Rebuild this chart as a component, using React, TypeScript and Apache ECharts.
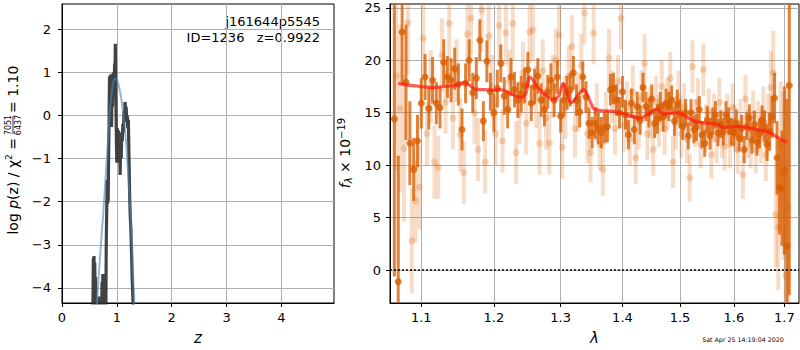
import { useEffect, useRef } from 'react';
import * as echarts from 'echarts';

// ---------- tick values ----------
const zTicks = [0, 1, 2, 3, 4];
const logPTicks = [-4, -3, -2, -1, 0, 1, 2];
const lamTicks = [1.1, 1.2, 1.3, 1.4, 1.5, 1.6, 1.7];
const fluxTicks = [0, 5, 10, 15, 20, 25];

// ---------- left panel: log p(z) ----------
const zPz = [0.560, 0.572, 0.578, 0.584, 0.590, 0.597, 0.604, 0.612, 0.622, 0.668, 0.680, 0.692, 0.722, 0.730, 0.738, 0.746, 0.754, 0.764, 0.776, 0.798, 0.806, 0.812, 0.818, 0.824, 0.830, 0.836, 0.842, 0.850, 0.858, 0.866, 0.872, 0.880, 0.888, 0.896, 0.904, 0.912, 0.920, 0.928, 0.936, 0.944, 0.952, 0.960, 0.966, 0.972, 0.978, 0.985, 0.992, 1.000, 1.010, 1.020, 1.030, 1.040, 1.050, 1.060, 1.070, 1.080, 1.090, 1.100, 1.110, 1.120, 1.130, 1.140, 1.150, 1.160, 1.170, 1.180, 1.190, 1.200, 1.210, 1.222, 1.234, 1.246, 1.254, 1.266, 1.280, 1.295, 1.310];
const logPz = [-5.0, -3.3, -3.9, -3.26, -4.05, -3.42, -4.2, -3.75, -5.0, -5.0, -4.2, -5.0, -5.0, -3.87, -4.1, -3.68, -4.1, -3.72, -5.0, -5.0, -3.1, -2.5, -2.0, -1.5, -2.05, -1.48, -2.0, -0.9, -0.2, 0.9, -0.1, 0.93, 0.0, 0.95, -0.27, 0.6, 0.2, 0.97, 0.4, 1.0, 0.7, 1.2, 0.6, 1.66, 0.9, 0.1, -0.6, -1.1, -0.3, -0.9, -0.35, -1.0, -0.5, -1.38, -0.6, -1.0, -0.4, -0.6, -0.2, -0.4, 0.1, -0.1, 0.31, 0.05, 0.2, -0.15, 0.0, -0.3, -0.1, -1.0, -1.9, -2.4, -2.56, -3.1, -3.8, -4.3, -5.0];
const zFit = [0.63, 0.66, 0.69, 0.72, 0.75, 0.78, 0.81, 0.84, 0.87, 0.90, 0.93, 0.96, 0.99, 1.02, 1.05, 1.08, 1.11, 1.14, 1.17, 1.20, 1.23, 1.26, 1.29, 1.32];
const logPzFit = [-4.5, -3.9, -3.35, -2.8, -2.3, -1.75, -1.15, -0.55, 0.05, 0.45, 0.73, 0.85, 0.84, 0.76, 0.6, 0.4, 0.12, -0.22, -0.65, -1.2, -1.85, -2.6, -3.5, -4.5];

// ---------- right panel: spectrum [lambda, flux, error] ----------
const specLight: number[][] = [
  [1.0675, 18.5, 9], [1.0725, 15.4, 8], [1.0775, 11.6, 7], [1.0825, 23.6, 5], [1.0875, 2.8, 5], [1.0925, 6.6, 4], [1.0975, 7.9, 4],
  [1.1025, 22.1, 3.5], [1.1075, 13.0, 3], [1.1125, 17.5, 3.5], [1.1175, 10.3, 3.5], [1.1225, 9.8, 3], [1.1275, 20.5, 3.5], [1.1325, 16.0, 3],
  [1.1375, 23.5, 3.5], [1.1425, 14.5, 3], [1.1475, 19.0, 3], [1.1525, 12.9, 3.5], [1.1575, 9.3, 3], [1.1625, 22.5, 3.5], [1.1675, 24.0, 3.5],
  [1.1725, 15.0, 3], [1.1775, 11.5, 3], [1.1825, 24.8, 4], [1.1875, 10.3, 3], [1.1925, 22.3, 3], [1.1975, 17.5, 3], [1.2025, 13.0, 3],
  [1.2075, 23.3, 3.5], [1.2125, 12.3, 3], [1.2175, 22.6, 3], [1.2225, 18.0, 3], [1.2275, 23.5, 3.5], [1.2325, 11.2, 3], [1.2375, 15.0, 3],
  [1.2425, 18.8, 3], [1.2475, 14.0, 3], [1.2525, 22.7, 3], [1.2575, 22.9, 3], [1.2625, 16.5, 3], [1.2675, 12.1, 3], [1.2725, 19.0, 3],
  [1.2775, 14.5, 3], [1.2825, 12.1, 3], [1.2875, 17.5, 3], [1.2925, 20.0, 3], [1.2975, 22.4, 3], [1.3025, 11.7, 3], [1.3075, 15.5, 3],
  [1.3125, 18.5, 2.8], [1.3175, 21.3, 3], [1.3225, 13.5, 2.8], [1.3275, 16.0, 2.8], [1.3325, 19.5, 3], [1.3375, 24.5, 3], [1.3425, 13.0, 2.8],
  [1.3475, 11.2, 2.8], [1.3525, 22.6, 3], [1.3575, 15.0, 2.8], [1.3625, 12.0, 2.5], [1.3675, 9.6, 2.5], [1.3725, 14.5, 2.5], [1.3775, 20.2, 2.8],
  [1.3825, 16.5, 2.5], [1.3875, 13.5, 2.5], [1.3925, 18.0, 2.5], [1.3975, 24.0, 3], [1.4025, 13.8, 2.5], [1.4075, 15.5, 2.5], [1.4125, 12.5, 2.5],
  [1.4175, 17.0, 2.5], [1.4225, 10.7, 2.5], [1.4275, 14.0, 2.5], [1.4325, 16.5, 2.5], [1.4375, 19.7, 2.8], [1.4425, 13.0, 2.5], [1.4475, 15.0, 2.5],
  [1.4525, 11.5, 2.5], [1.4575, 16.0, 2.5], [1.4625, 14.2, 2.5], [1.4675, 17.5, 2.5], [1.4725, 13.5, 2.5], [1.4775, 15.8, 2.5], [1.4825, 18.3, 2.5],
  [1.4875, 10.3, 2.5], [1.4925, 14.0, 2.5], [1.4975, 16.5, 2.5], [1.5025, 13.0, 2.3], [1.5075, 15.5, 2.3], [1.5125, 12.5, 2.3], [1.5175, 8.8, 2.3],
  [1.5225, 19.4, 2.5], [1.5275, 14.0, 2.3], [1.5325, 16.0, 2.3], [1.5375, 12.0, 2.3], [1.5425, 19.1, 2.5], [1.5475, 13.5, 2.3], [1.5525, 15.0, 2.3],
  [1.5575, 11.0, 2.3], [1.5625, 14.5, 2.3], [1.5675, 12.5, 2.3], [1.5725, 16.0, 2.3], [1.5775, 13.0, 2.3], [1.5825, 11.8, 2.3], [1.5875, 14.5, 2.3],
  [1.5925, 12.0, 2.3], [1.5975, 15.5, 2.3], [1.6025, 13.5, 2.3], [1.6075, 11.5, 2.3], [1.6125, 14.0, 2.3], [1.6175, 9.1, 2.3], [1.6225, 16.3, 2.3],
  [1.6275, 13.0, 2.3], [1.6325, 12.0, 2.3], [1.6375, 14.8, 2.3], [1.6425, 11.5, 2.3], [1.6475, 13.8, 2.3], [1.6525, 12.5, 2.3], [1.6575, 15.0, 2.5],
  [1.6625, 11.0, 2.5], [1.6675, 14.0, 2.8], [1.6725, 17.4, 3.5], [1.6775, 18.8, 4], [1.6825, 5.3, 5], [1.6875, 4.1, 6], [1.6925, 12.0, 6],
  [1.6975, 9.0, 8], [1.7025, -0.5, 10], [1.7075, 6.0, 12],
];

const specDark: number[][] = [
  [1.065, 14.4, 15], [1.070, -1.1, 12], [1.075, 22.7, 5], [1.080, 17.9, 5.5], [1.085, 12.1, 4], [1.090, 9.6, 3], [1.095, 12.3, 2.5],
  [1.100, 15.9, 2.4], [1.105, 18.4, 2.2], [1.110, 15.4, 2.0], [1.115, 18.1, 2.2], [1.120, 15.9, 2.0], [1.125, 15.5, 2.0], [1.130, 19.8, 2.2],
  [1.135, 18.4, 2.0], [1.140, 18.1, 2.1], [1.145, 19.2, 2.0], [1.150, 17.7, 2.0], [1.155, 13.4, 2.0], [1.160, 17.8, 1.9], [1.165, 20.0, 2.0],
  [1.170, 16.9, 1.9], [1.175, 18.3, 2.0], [1.180, 21.9, 2.0], [1.185, 14.2, 1.9], [1.190, 19.9, 2.0], [1.195, 17.0, 1.8], [1.200, 15.0, 1.8],
  [1.205, 17.3, 1.8], [1.210, 19.7, 1.8], [1.215, 16.6, 1.8], [1.220, 15.3, 1.8], [1.225, 18.4, 1.8], [1.230, 17.2, 1.7], [1.235, 16.2, 1.7],
  [1.240, 16.8, 1.7], [1.245, 17.6, 1.7], [1.250, 19.1, 1.7], [1.255, 15.9, 1.7], [1.260, 17.5, 1.7], [1.265, 18.5, 1.7], [1.270, 16.2, 1.6],
  [1.275, 15.3, 1.6], [1.280, 17.0, 1.6], [1.285, 18.1, 1.6], [1.290, 16.2, 1.6], [1.295, 18.4, 1.6], [1.300, 14.7, 1.6], [1.305, 16.2, 1.6],
  [1.310, 16.9, 1.6], [1.315, 17.2, 1.6], [1.320, 18.8, 1.6], [1.325, 16.2, 1.5], [1.330, 15.1, 1.5], [1.335, 18.4, 1.5], [1.340, 16.5, 1.5],
  [1.345, 14.0, 1.5], [1.350, 13.1, 1.5], [1.355, 14.0, 1.5], [1.360, 13.5, 1.5], [1.365, 13.1, 1.5], [1.370, 13.6, 1.5], [1.375, 13.7, 1.5],
  [1.380, 17.2, 1.5], [1.385, 17.3, 1.5], [1.390, 16.2, 1.5], [1.395, 15.0, 1.5], [1.400, 17.0, 1.5], [1.405, 14.8, 1.4], [1.410, 12.9, 1.4],
  [1.415, 15.9, 1.4], [1.420, 13.4, 1.4], [1.425, 15.6, 1.4], [1.430, 14.3, 1.4], [1.435, 17.4, 1.4], [1.440, 15.6, 1.4], [1.445, 15.0, 1.4],
  [1.450, 16.3, 1.4], [1.455, 14.0, 1.4], [1.460, 14.4, 1.4], [1.465, 15.6, 1.4], [1.470, 14.6, 1.4], [1.475, 15.9, 1.4], [1.480, 15.6, 1.4],
  [1.485, 16.2, 1.4], [1.490, 14.2, 1.4], [1.495, 15.8, 1.4], [1.500, 14.9, 1.4], [1.505, 13.7, 1.3], [1.510, 15.0, 1.3], [1.515, 12.8, 1.3],
  [1.520, 15.0, 1.3], [1.525, 13.4, 1.3], [1.530, 13.6, 1.3], [1.535, 15.3, 1.3], [1.540, 12.9, 1.3], [1.545, 12.1, 1.3], [1.550, 14.3, 1.3],
  [1.555, 12.8, 1.3], [1.560, 14.2, 1.3], [1.565, 14.8, 1.3], [1.570, 13.1, 1.3], [1.575, 13.9, 1.3], [1.580, 13.2, 1.3], [1.585, 14.8, 1.3],
  [1.590, 14.2, 1.3], [1.595, 13.2, 1.3], [1.600, 13.1, 1.3], [1.605, 14.0, 1.3], [1.610, 12.6, 1.3], [1.615, 13.5, 1.3], [1.620, 11.5, 1.3],
  [1.625, 13.7, 1.3], [1.630, 14.5, 1.3], [1.635, 12.4, 1.3], [1.640, 13.9, 1.3], [1.645, 12.2, 1.3], [1.650, 13.0, 1.4], [1.655, 14.3, 1.4],
  [1.660, 13.7, 1.5], [1.665, 12.0, 1.6], [1.670, 13.2, 1.8], [1.675, 14.6, 2.0], [1.680, 16.4, 2.4], [1.685, 10.7, 3.5], [1.690, 7.9, 4.5],
  [1.695, 7.8, 5.5], [1.700, 9.5, 8], [1.705, 2.3, 14], [1.710, 17.6, 20],
];

const lamModel = [1.070, 1.085, 1.100, 1.115, 1.130, 1.145, 1.159, 1.166, 1.173, 1.187, 1.201, 1.209, 1.225, 1.240, 1.247, 1.253, 1.268, 1.289, 1.297, 1.304, 1.317, 1.336, 1.352, 1.363, 1.380, 1.396, 1.413, 1.430, 1.445, 1.459, 1.470, 1.497, 1.515, 1.531, 1.568, 1.580, 1.606, 1.645, 1.671, 1.691, 1.705];
const fluxModel = [17.8, 17.6, 17.5, 17.4, 17.5, 17.6, 17.9, 17.6, 17.25, 17.2, 17.15, 17.2, 16.8, 16.45, 16.9, 18.4, 17.2, 16.25, 16.6, 17.8, 15.95, 17.2, 15.45, 15.2, 15.15, 15.0, 14.7, 14.5, 14.9, 15.35, 14.9, 15.0, 14.5, 14.1, 13.9, 13.6, 13.7, 13.4, 13.1, 12.5, 12.2];

const FONT = 'DejaVu Sans';
const zip = (xs: number[], ys: number[]) => xs.map((x, i) => [x, ys[i]]);

const errBar = (color: string, width: number) => (params: any, api: any) => {
  const x = api.value(0);
  const y = api.value(1);
  const e = api.value(2);
  const a = api.coord([x, y - e]);
  const b = api.coord([x, y + e]);
  return {
    type: 'line',
    shape: { x1: a[0], y1: a[1], x2: b[0], y2: b[1] },
    style: { stroke: color, lineWidth: width },
  };
};

const axisCommon = {
  axisLine: { show: true, onZero: false, lineStyle: { color: '#000', width: 1 } },
  splitLine: { show: true, lineStyle: { color: '#b0b0b0', width: 1 } },
};

export default function App() {
  const ref = useRef<HTMLDivElement>(null);
  useEffect(() => {
    if (!ref.current) return;
    const chart = echarts.init(ref.current, null, { renderer: 'svg' });
    const minus = (v: number) => (v < 0 ? '\u2212' + Math.abs(v) : String(v));
    const option: any = {
      animation: false,
      textStyle: { fontFamily: FONT },
      grid: [
        { left: 62, top: 4, width: 272, height: 300, show: true, borderColor: '#000', borderWidth: 1, backgroundColor: 'transparent' },
        { left: 390, top: 4, width: 409, height: 300, show: true, borderColor: '#000', borderWidth: 1, backgroundColor: 'transparent' },
      ],
      xAxis: [
        {
          gridIndex: 0, type: 'value', min: 0, max: 4.96,
          ...axisCommon,
          axisTick: { show: true, customValues: zTicks, length: 4, lineStyle: { color: '#000' } },
          axisLabel: { customValues: zTicks, fontSize: 13, color: '#000', margin: 8, fontFamily: FONT },
          name: 'z', nameLocation: 'middle', nameGap: 27,
          nameTextStyle: { fontSize: 15, fontStyle: 'italic', color: '#000', fontFamily: FONT },
        },
        {
          gridIndex: 1, type: 'log', logBase: 10, min: 1.0595, max: 1.73,
          ...axisCommon,
          axisTick: { show: true, customValues: lamTicks, length: 4, lineStyle: { color: '#000' } },
          axisLabel: { customValues: lamTicks, fontSize: 13, color: '#000', margin: 8, fontFamily: FONT, formatter: (v: number) => v.toFixed(1) },
          name: 'λ', nameLocation: 'middle', nameGap: 27,
          nameTextStyle: { fontSize: 15, fontStyle: 'italic', color: '#000', fontFamily: FONT },
        },
      ],
      yAxis: [
        {
          gridIndex: 0, type: 'value', min: -4.35, max: 2.58,
          ...axisCommon,
          axisTick: { show: true, customValues: logPTicks, length: 4, lineStyle: { color: '#000' } },
          axisLabel: { customValues: logPTicks, fontSize: 13, color: '#000', margin: 11, fontFamily: FONT, formatter: minus },
        },
        {
          gridIndex: 1, type: 'value', min: -3.13, max: 25.36,
          ...axisCommon,
          axisTick: { show: true, customValues: fluxTicks, length: 4, lineStyle: { color: '#000' } },
          axisLabel: { customValues: fluxTicks, fontSize: 13, color: '#000', margin: 9, fontFamily: FONT },
        },
      ],
      graphic: [
        {
          type: 'group', x: 13, y: 152, rotation: Math.PI / 2,
          children: [
            {
              type: 'text', x: 14, y: 0,
              style: {
                text: '{n|log }{i|p}{n|(z) / χ}{s|2}{n| =}',
                align: 'right', verticalAlign: 'middle', fill: '#000', fontFamily: FONT, fontSize: 14,
                rich: {
                  n: { fontSize: 14, fontFamily: FONT, fill: '#000' },
                  i: { fontSize: 14, fontFamily: FONT, fontStyle: 'italic', fill: '#000' },
                  s: { fontSize: 9, fontFamily: FONT, fill: '#000', padding: [0, 0, 8, 0] },
                },
              },
            },
            { type: 'text', x: 27, y: -5, style: { text: '7051', fontSize: 8, fontFamily: FONT, align: 'center', verticalAlign: 'middle', fill: '#000' } },
            { type: 'line', shape: { x1: 18, y1: 0, x2: 36, y2: 0 }, style: { stroke: '#000', lineWidth: 0.8 } },
            { type: 'text', x: 27, y: 5, style: { text: '6437', fontSize: 8, fontFamily: FONT, align: 'center', verticalAlign: 'middle', fill: '#000' } },
            { type: 'text', x: 39, y: 0, style: { text: '= 1.10', fontSize: 14, fontFamily: FONT, align: 'left', verticalAlign: 'middle', fill: '#000' } },
          ],
        },
        {
          type: 'group', x: 345, y: 153, rotation: Math.PI / 2,
          children: [
            {
              type: 'text', x: 0, y: 0,
              style: {
                text: '{i|f}{b|λ}{n| × 10}{s|−19}',
                align: 'center', verticalAlign: 'middle', fill: '#000', fontFamily: FONT, fontSize: 14,
                rich: {
                  n: { fontSize: 14, fontFamily: FONT, fill: '#000' },
                  i: { fontSize: 14, fontFamily: FONT, fontStyle: 'italic', fill: '#000' },
                  b: { fontSize: 10, fontFamily: FONT, fontStyle: 'italic', fill: '#000', padding: [7, 0, 0, 0] },
                  s: { fontSize: 10, fontFamily: FONT, fill: '#000', padding: [0, 0, 8, 0] },
                },
              },
            },
          ],
        },
        { type: 'text', x: 320, y: 21, style: { text: 'j161644p5545', fontSize: 13, fontFamily: FONT, align: 'right', verticalAlign: 'middle', fill: '#000' } },
        { type: 'text', x: 320, y: 37, style: { text: 'ID=1236   z=0.9922', fontSize: 13, fontFamily: FONT, align: 'right', verticalAlign: 'middle', fill: '#000' } },
        { type: 'text', x: 743, y: 339, style: { text: 'Sat Apr 25 14:19:04 2020', fontSize: 6.3, fontFamily: FONT, align: 'center', verticalAlign: 'middle', fill: '#000' } },
      ],
      series: [
        {
          type: 'line', xAxisIndex: 0, yAxisIndex: 0, data: zip(zPz, logPz), showSymbol: false, clip: true,
          lineStyle: { color: 'rgba(45,45,45,0.9)', width: 3.2 },
        },
        {
          type: 'line', xAxisIndex: 0, yAxisIndex: 0, data: zip(zFit, logPzFit), showSymbol: false, clip: true, smooth: 0.3,
          lineStyle: { color: 'rgba(70,135,190,0.6)', width: 2 },
        },
        {
          type: 'custom', xAxisIndex: 1, yAxisIndex: 1, data: specLight, clip: true,
          encode: { x: 0, y: 1 },
          renderItem: errBar('rgba(217,95,2,0.22)', 4),
        },
        {
          type: 'scatter', xAxisIndex: 1, yAxisIndex: 1, data: specLight.map((d) => [d[0], d[1]]), symbolSize: 7,
          itemStyle: { color: 'rgba(217,95,2,0.3)' },
        },
        {
          type: 'custom', xAxisIndex: 1, yAxisIndex: 1, data: specDark, clip: true,
          encode: { x: 0, y: 1 },
          renderItem: errBar('rgba(217,95,2,0.78)', 3),
        },
        {
          type: 'scatter', xAxisIndex: 1, yAxisIndex: 1, data: specDark.map((d) => [d[0], d[1]]), symbolSize: 7,
          itemStyle: { color: '#d95f02' },
        },
        {
          type: 'line', xAxisIndex: 1, yAxisIndex: 1, data: zip(lamModel, fluxModel), showSymbol: false, smooth: 0.3,
          lineStyle: { color: 'rgba(255,25,15,0.7)', width: 3.2 },
          markLine: {
            silent: true, symbol: 'none', label: { show: false },
            lineStyle: { type: [2, 2], color: '#000', width: 1.5 },
            data: [{ yAxis: 0 }],
          },
        },
      ],
    };
    chart.setOption(option);
    return () => chart.dispose();
  }, []);
  return <div ref={ref} style={{ position: 'absolute', left: 0, top: 0, width: 800, height: 350 }} />;
}
